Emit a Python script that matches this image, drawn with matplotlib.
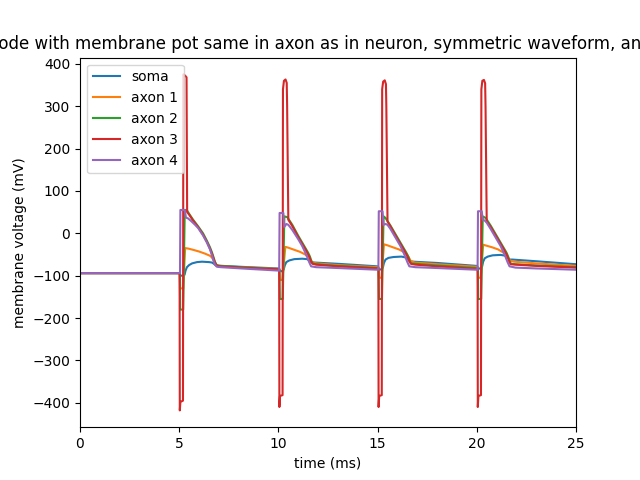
import matplotlib
matplotlib.use('Agg')
import matplotlib.pyplot as plt

# soma
soma_t = [0, 5.03, 5.05, 5.2, 5.27, 5.32, 5.39, 5.5, 5.65, 5.9, 6.15, 6.5, 6.65, 6.75, 6.85, 7.2, 8.5, 10.0,
          10.05, 10.2, 10.27, 10.32, 10.4, 10.55, 10.8, 11.2, 11.45, 11.55, 11.65, 11.8, 13.0, 15.0,
          15.05, 15.2, 15.27, 15.32, 15.4, 15.55, 15.8, 16.2, 16.42, 16.52, 16.62, 16.8, 18.0, 20.0,
          20.05, 20.2, 20.27, 20.32, 20.4, 20.55, 20.8, 21.2, 21.45, 21.55, 21.65, 21.8, 23.0, 25.0]
soma_v = [-94, -94, -100, -100, -98, -88, -80, -75, -71, -68, -67, -68, -69, -72, -76, -77, -80, -83,
          -88, -90, -85, -76, -68, -64, -61, -60, -61, -64, -68, -69, -72, -78,
          -84, -86, -80, -70, -62, -58, -56, -55, -57, -61, -66, -67, -70, -77,
          -82, -84, -78, -67, -59, -55, -52, -51, -53, -57, -62, -62, -66, -73]

# axon 1
ax1_t = [0, 5.03, 5.05, 5.2, 5.3, 5.45, 5.7, 6.0, 6.3, 6.55, 6.65, 6.72, 6.8, 6.9, 7.2, 8.5, 10.0,
         10.05, 10.07, 10.2, 10.35, 10.5, 10.8, 11.1, 11.35, 11.5, 11.6, 11.7, 11.9, 13.0, 15.0,
         15.05, 15.07, 15.2, 15.32, 15.47, 15.77, 16.07, 16.32, 16.47, 16.57, 16.67, 16.87, 18.0, 20.0,
         20.05, 20.07, 20.2, 20.32, 20.47, 20.77, 21.07, 21.32, 21.47, 21.57, 21.67, 21.87, 23.0, 25.0]
ax1_v = [-94, -94, -130, -130, -35, -36, -39, -43, -48, -53, -57, -63, -71, -76, -78, -81, -84,
         -84, -110, -110, -32, -34, -39, -44, -50, -56, -62, -68, -71, -75, -80,
         -80, -105, -105, -26, -28, -33, -38, -44, -50, -57, -65, -69, -73, -79,
         -79, -105, -105, -27, -29, -33, -38, -45, -51, -58, -64, -67, -71, -77]

# axon 2
ax2_t = [0, 5.03, 5.05, 5.2, 5.28, 5.38, 5.5, 5.7, 5.96, 6.2, 6.4, 6.55, 6.65, 6.72, 6.8, 6.89, 7.0, 8.5, 10.0,
         10.05, 10.07, 10.22, 10.3, 10.45, 10.7, 11.0, 11.2, 11.4, 11.5, 11.59, 11.66, 11.73, 11.9, 13.0, 15.0,
         15.05, 15.07, 15.22, 15.3, 15.4, 15.65, 15.95, 16.15, 16.35, 16.45, 16.55, 16.62, 16.69, 16.9, 18.0, 20.0,
         20.05, 20.07, 20.22, 20.3, 20.45, 20.7, 21.0, 21.2, 21.4, 21.5, 21.58, 21.65, 21.72, 21.95, 23.0, 25.0]
ax2_v = [-94, -94, -180, -180, 55, 55, 46, 32, 16, 0, -18, -33, -45, -55, -67, -75, -77, -81, -85,
         -85, -155, -155, 40, 38, 20, -6, -22, -38, -46, -55, -65, -71, -73, -77, -82,
         -82, -155, -155, 40, 36, 18, -6, -22, -38, -46, -55, -65, -71, -72, -76, -82,
         -82, -155, -155, 40, 36, 18, -6, -22, -38, -46, -55, -65, -72, -73, -76, -80]

# axon 3
ax3_t = [0, 5.02, 5.03, 5.06, 5.19, 5.21, 5.3, 5.37, 5.4, 5.5, 5.7, 5.96, 6.2, 6.4, 6.55, 6.65, 6.72, 6.8, 6.88, 7.0, 8.5, 10.0,
         10.04, 10.05, 10.08, 10.21, 10.23, 10.28, 10.36, 10.42, 10.44, 10.5, 10.7, 11.0, 11.2, 11.4, 11.5, 11.58, 11.65, 11.72, 11.9, 13.0, 15.0,
         15.04, 15.05, 15.08, 15.21, 15.23, 15.28, 15.36, 15.42, 15.44, 15.5, 15.65, 15.95, 16.15, 16.35, 16.45, 16.54, 16.61, 16.68, 16.9, 18.0, 20.0,
         20.04, 20.05, 20.08, 20.21, 20.23, 20.28, 20.36, 20.42, 20.44, 20.5, 20.7, 21.0, 21.2, 21.4, 21.5, 21.57, 21.64, 21.71, 21.95, 23.0, 25.0]
ax3_v = [-94, -94, -418, -398, -395, 375, 372, 368, 50, 44, 30, 14, -3, -21, -36, -48, -58, -69, -76, -78, -82, -85,
         -85, -410, -384, -382, 340, 360, 363, 355, 300, 32, 17, -9, -25, -41, -50, -58, -67, -72, -74, -78, -83,
         -83, -410, -384, -382, 340, 358, 361, 352, 300, 28, 16, -9, -25, -41, -50, -58, -67, -72, -74, -78, -84,
         -84, -410, -384, -382, 340, 360, 362, 354, 300, 28, 15, -9, -25, -41, -50, -58, -67, -73, -74, -77, -81]

# axon 4
ax4_t = [0, 5.04, 5.06, 5.28, 5.34, 5.45, 5.6, 5.8, 5.96, 6.2, 6.4, 6.55, 6.65, 6.72, 6.8, 6.9, 7.1, 8.5, 10.0,
         10.04, 10.06, 10.25, 10.3, 10.4, 10.5, 10.7, 11.0, 11.2, 11.35, 11.45, 11.55, 11.65, 11.9, 13.0, 15.0,
         15.04, 15.06, 15.25, 15.3, 15.4, 15.5, 15.65, 15.95, 16.15, 16.3, 16.4, 16.5, 16.6, 16.9, 18.0, 20.0,
         20.04, 20.06, 20.25, 20.3, 20.4, 20.5, 20.7, 21.0, 21.2, 21.35, 21.45, 21.55, 21.65, 21.95, 23.0, 25.0]
ax4_v = [-94, -94, 55, 55, 37, 35, 29, 20, 12, -5, -22, -38, -52, -63, -74, -79, -80, -84, -88,
         -88, 48, 48, 15, 22, 20, 8, -14, -30, -45, -56, -68, -78, -80, -82, -86,
         -86, 52, 52, 20, 22, 20, 10, -14, -30, -45, -56, -68, -78, -80, -82, -86,
         -86, 52, 52, 32, 30, 25, 10, -14, -30, -45, -56, -68, -78, -81, -83, -86]

plt.figure(figsize=(6.4, 4.8))
plt.plot(soma_t, soma_v, label='soma')
plt.plot(ax1_t, ax1_v, label='axon 1')
plt.plot(ax2_t, ax2_v, label='axon 2')
plt.plot(ax3_t, ax3_v, label='axon 3')
plt.plot(ax4_t, ax4_v, label='axon 4')
plt.xlim(0, 25)
plt.xlabel('time (ms)')
plt.ylabel('membrane voltage (mV)')
plt.title('Electrode with membrane pot same in axon as in neuron, symmetric waveform, and axons')
plt.legend(loc='upper left')
plt.savefig('out.png', dpi=100)
